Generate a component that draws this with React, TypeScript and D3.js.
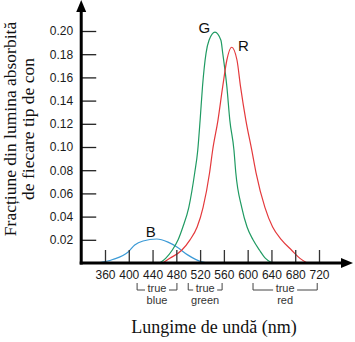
import * as d3 from 'd3';
import { useEffect, useRef } from 'react';

// axis ticks
const xTicks = [360, 400, 440, 480, 520, 560, 600, 640, 680, 720];
const yTicks = [0.02, 0.04, 0.06, 0.08, 0.1, 0.12, 0.14, 0.16, 0.18, 0.2];

// absorption curves: [wavelength nm, fraction]
const blueCone: [number, number][] = [
    [348, 0], [373, 0.003], [399, 0.0095], [410, 0.0155], [424, 0.019],
    [447, 0.0207], [466, 0.018], [481, 0.0138], [499, 0.007], [523, 0.001], [536, 0],
];
const greenCone: [number, number][] = [
    [452, 0], [462, 0.004], [473, 0.011], [483, 0.02], [491, 0.031], [501, 0.048],
    [511, 0.078], [516, 0.097], [520, 0.123], [524, 0.152], [530, 0.181], [535, 0.192],
    [545, 0.199], [555, 0.192], [558, 0.181], [565, 0.152], [570, 0.123], [577, 0.097],
    [580, 0.078], [590, 0.048], [599, 0.031], [609, 0.02], [620, 0.011], [630, 0.004], [641, 0],
];
const redCone: [number, number][] = [
    [457, 0], [469, 0.004], [489, 0.011], [503, 0.02], [515, 0.031], [525, 0.048],
    [536, 0.078], [541, 0.097], [550, 0.123], [558, 0.152], [565, 0.175], [573, 0.186],
    [582, 0.175], [588, 0.152], [597, 0.123], [607, 0.097], [614, 0.078], [629, 0.048],
    [642, 0.031], [657, 0.02], [674, 0.011], [688, 0.004], [700, 0],
];

const coneNames = ['B', 'G', 'R'];
const coneColors = ['#3b9ad6', '#1f9a62', '#e4393c'];
const coneLabelPos: [number, number][] = [[437, 0.0224], [527, 0.198], [593, 0.183]];

// "true ..." brackets under the axis
const bandNames = ['blue', 'green', 'red'];
const bandRanges: [number, number][] = [[414, 481], [500, 557], [609, 717]];

function App() {
    const ref = useRef<SVGSVGElement>(null);

    useEffect(() => {
        const width = 355;
        const height = 342;
        const svg = d3.select(ref.current);
        svg.selectAll('*').remove();
        svg.attr('width', width).attr('height', height);

        svg.append('rect').attr('width', width).attr('height', height).attr('fill', '#fff');

        const x = d3.scaleLinear().domain([360, 720]).range([105, 319]);
        const y = d3.scaleLinear().domain([0, 0.2]).range([263, 31]);
        const x0 = x(320);
        const y0 = y(0);

        const sans = 'Liberation Sans, Arial, sans-serif';
        const serif = 'Liberation Serif, Times New Roman, serif';

        // curves
        const line = d3.line<[number, number]>()
            .x(d => x(d[0]))
            .y(d => y(d[1]))
            .curve(d3.curveMonotoneX);

        [blueCone, greenCone, redCone].forEach((data, i) => {
            svg.append('path')
                .datum(data)
                .attr('d', line)
                .attr('fill', 'none')
                .attr('stroke', coneColors[i])
                .attr('stroke-width', 1.2);
        });

        // y axis ticks (pointing inward)
        const yAxis = d3.axisLeft(y)
            .tickValues(yTicks)
            .tickFormat(d3.format('.2f'))
            .tickSizeInner(-15)
            .tickSizeOuter(0)
            .tickPadding(8);
        const gy = svg.append('g').attr('transform', `translate(${x0},0)`).call(yAxis);
        gy.select('.domain').remove();
        gy.selectAll('line').attr('stroke', '#222').attr('stroke-width', 1.3);
        gy.selectAll('text').attr('font-family', sans).attr('font-size', 12).attr('fill', '#1a1a1a');

        // x axis ticks (pointing up)
        const xAxis = d3.axisBottom(x)
            .tickValues(xTicks)
            .tickFormat(d3.format('d'))
            .tickSizeInner(-13)
            .tickSizeOuter(0)
            .tickPadding(7);
        const gx = svg.append('g').attr('transform', `translate(0,${y0})`).call(xAxis);
        gx.select('.domain').remove();
        gx.selectAll('line').attr('stroke', '#333').attr('stroke-width', 1.3);
        gx.selectAll('text').attr('font-family', sans).attr('font-size', 12).attr('fill', '#1a1a1a');

        // main axis lines with arrow heads
        svg.append('line')
            .attr('x1', x0).attr('y1', y0 + 1.5).attr('x2', x0).attr('y2', 8)
            .attr('stroke', '#000').attr('stroke-width', 3);
        svg.append('path')
            .attr('d', `M${x0},0 L${x0 - 5},12 L${x0 + 5},12 Z`)
            .attr('fill', '#000');
        svg.append('line')
            .attr('x1', x0 - 1.5).attr('y1', y0).attr('x2', 345).attr('y2', y0)
            .attr('stroke', '#000').attr('stroke-width', 3);
        svg.append('path')
            .attr('d', `M353,${y0} L341,${y0 - 5} L341,${y0 + 5} Z`)
            .attr('fill', '#000');

        // curve letters
        coneNames.forEach((name, i) => {
            svg.append('text')
                .attr('x', x(coneLabelPos[i][0]))
                .attr('y', y(coneLabelPos[i][1]))
                .attr('text-anchor', 'middle')
                .attr('font-family', sans)
                .attr('font-size', 15)
                .attr('fill', '#111')
                .text(name);
        });

        // true blue / green / red brackets
        const bTop = 283;
        const bBot = 290;
        bandNames.forEach((name, i) => {
            const a = x(bandRanges[i][0]);
            const b = x(bandRanges[i][1]);
            const mid = (a + b) / 2;
            const gap = 12;
            svg.append('path')
                .attr('d', `M${a},${bTop} L${a},${bBot} L${mid - gap},${bBot} M${mid + gap},${bBot} L${b},${bBot} L${b},${bTop}`)
                .attr('fill', 'none')
                .attr('stroke', '#444')
                .attr('stroke-width', 1);
            svg.append('text')
                .attr('x', mid).attr('y', 292)
                .attr('text-anchor', 'middle')
                .attr('font-family', sans).attr('font-size', 11).attr('fill', '#333')
                .text('true');
            svg.append('text')
                .attr('x', mid).attr('y', 304)
                .attr('text-anchor', 'middle')
                .attr('font-family', sans).attr('font-size', 11).attr('fill', '#333')
                .text(name);
        });

        // axis titles
        svg.append('text')
            .attr('x', 214).attr('y', 333)
            .attr('text-anchor', 'middle')
            .attr('font-family', serif).attr('font-size', 18).attr('fill', '#111')
            .text('Lungime de undă (nm)');

        const yt = svg.append('text')
            .attr('transform', 'translate(16,129) rotate(-90)')
            .attr('text-anchor', 'middle')
            .attr('font-family', serif).attr('font-size', 17.5).attr('fill', '#111');
        yt.append('tspan').attr('x', 0).attr('y', 0).text('Fracțiune din lumina absorbită');
        yt.append('tspan').attr('x', 0).attr('y', 18).text('de fiecare tip de con');
    }, []);

    return (
        <div style={{ position: 'absolute', left: 0, top: 0 }}>
            <svg ref={ref} style={{ display: 'block' }} />
        </div>
    );
}

export default App;
